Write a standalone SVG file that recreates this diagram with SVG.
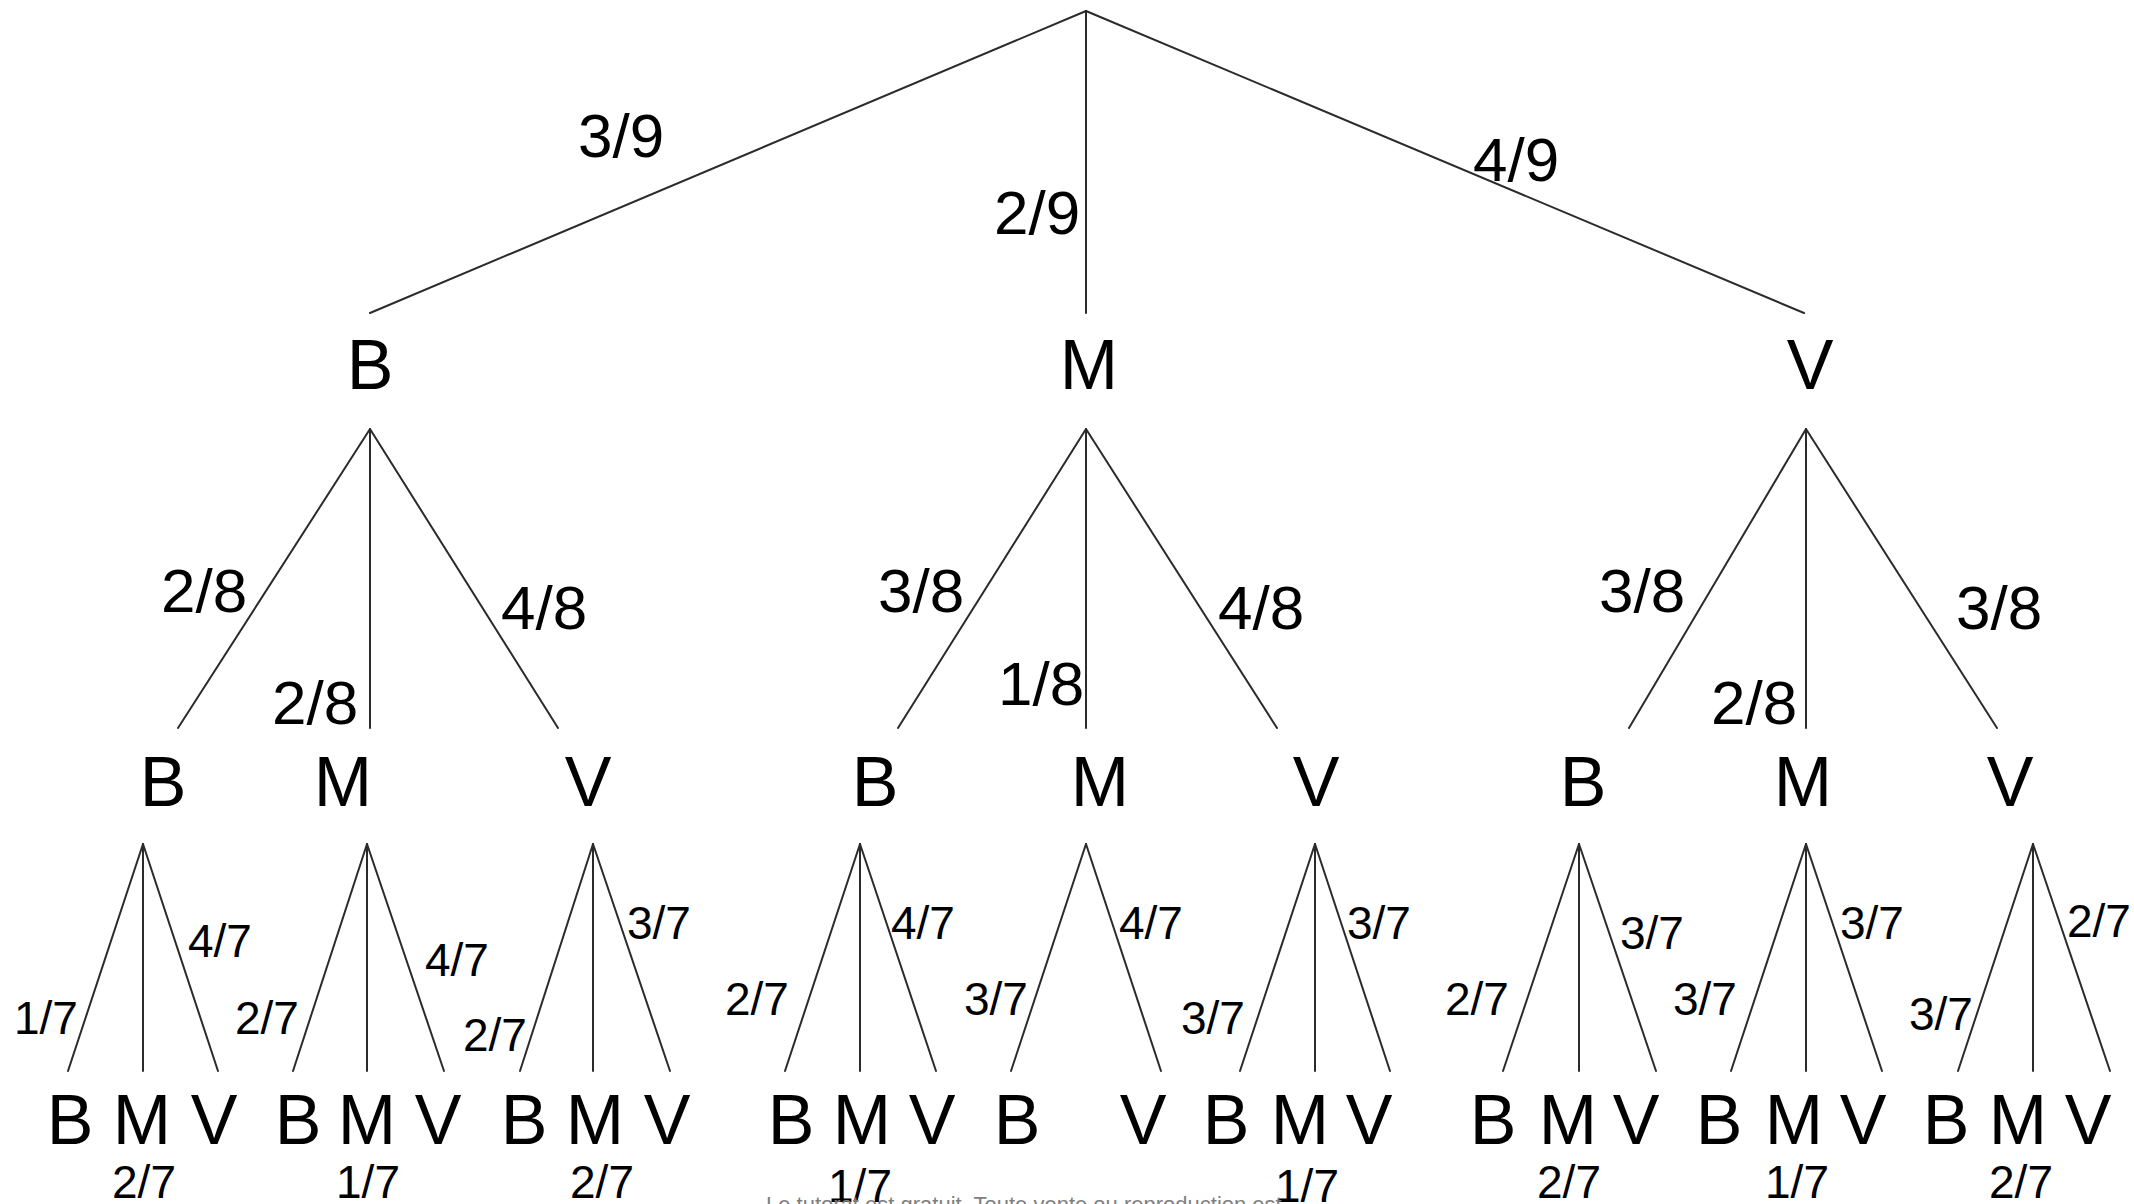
<svg xmlns="http://www.w3.org/2000/svg" width="2134" height="1204" viewBox="0 0 2134 1204">
  <style>
    .edge { stroke: #2b2b2b; stroke-width: 2; fill: none; stroke-linecap: round; }
    .node { font-family: "Liberation Sans", Arial, sans-serif; font-size: 70px; fill: #000; text-anchor: middle; }
    .p1 { font-family: "Liberation Sans", Arial, sans-serif; font-size: 62px; fill: #000; }
    .p3 { font-family: "Liberation Sans", Arial, sans-serif; font-size: 46px; fill: #000; }
    .pm { font-family: "Liberation Sans", Arial, sans-serif; font-size: 46px; fill: #000; text-anchor: middle; }
    .note { font-family: "Liberation Sans", Arial, sans-serif; font-size: 22px; fill: #808080; }
  </style>
  <rect width="2134" height="1204" fill="#fff"/>

  <!-- branches -->
  <g id="connectors" class="edge">
    <!-- first draw -->
    <line x1="1086" y1="11" x2="370" y2="313"/>
    <line x1="1086" y1="11" x2="1086" y2="313"/>
    <line x1="1086" y1="11" x2="1804" y2="313"/>
    <!-- second draw -->
    <line x1="370" y1="429" x2="178" y2="728"/>
    <line x1="370" y1="429" x2="370" y2="728"/>
    <line x1="370" y1="429" x2="558" y2="728"/>
    <line x1="1086" y1="429" x2="898" y2="728"/>
    <line x1="1086" y1="429" x2="1086" y2="728"/>
    <line x1="1086" y1="429" x2="1277" y2="728"/>
    <line x1="1806" y1="429" x2="1629" y2="728"/>
    <line x1="1806" y1="429" x2="1806" y2="728"/>
    <line x1="1806" y1="429" x2="1997" y2="728"/>
    <!-- third draw -->
    <line x1="143" y1="844" x2="68" y2="1071"/>
    <line x1="143" y1="844" x2="143" y2="1071"/>
    <line x1="143" y1="844" x2="218" y2="1071"/>
    <line x1="367" y1="844" x2="293" y2="1071"/>
    <line x1="367" y1="844" x2="367" y2="1071"/>
    <line x1="367" y1="844" x2="444" y2="1071"/>
    <line x1="593" y1="844" x2="520" y2="1071"/>
    <line x1="593" y1="844" x2="593" y2="1071"/>
    <line x1="593" y1="844" x2="670" y2="1071"/>
    <line x1="860" y1="844" x2="785" y2="1071"/>
    <line x1="860" y1="844" x2="860" y2="1071"/>
    <line x1="860" y1="844" x2="936" y2="1071"/>
    <line x1="1086" y1="844" x2="1011" y2="1071"/>
    <line x1="1086" y1="844" x2="1161" y2="1071"/>
    <line x1="1315" y1="844" x2="1240" y2="1071"/>
    <line x1="1315" y1="844" x2="1315" y2="1071"/>
    <line x1="1315" y1="844" x2="1390" y2="1071"/>
    <line x1="1579" y1="844" x2="1503" y2="1071"/>
    <line x1="1579" y1="844" x2="1579" y2="1071"/>
    <line x1="1579" y1="844" x2="1656" y2="1071"/>
    <line x1="1806" y1="844" x2="1731" y2="1071"/>
    <line x1="1806" y1="844" x2="1806" y2="1071"/>
    <line x1="1806" y1="844" x2="1882" y2="1071"/>
    <line x1="2033" y1="844" x2="1958" y2="1071"/>
    <line x1="2033" y1="844" x2="2033" y2="1071"/>
    <line x1="2033" y1="844" x2="2110" y2="1071"/>
  </g>

  <!-- branch probabilities -->
  <g id="edge-labels">
    <text class="p1" x="578" y="157">3/9</text>
    <text class="p1" x="994" y="234">2/9</text>
    <text class="p1" x="1473" y="181">4/9</text>

    <text class="p1" x="161" y="612">2/8</text>
    <text class="p1" x="272" y="724">2/8</text>
    <text class="p1" x="501" y="629">4/8</text>
    <text class="p1" x="878" y="612">3/8</text>
    <text class="p1" x="998" y="705">1/8</text>
    <text class="p1" x="1218" y="629">4/8</text>
    <text class="p1" x="1599" y="612">3/8</text>
    <text class="p1" x="1711" y="724">2/8</text>
    <text class="p1" x="1956" y="629">3/8</text>

    <text class="p3" x="14" y="1034">1/7</text>
    <text class="p3" x="188" y="957">4/7</text>
    <text class="p3" x="235" y="1034">2/7</text>
    <text class="p3" x="425" y="976">4/7</text>
    <text class="p3" x="463" y="1051">2/7</text>
    <text class="p3" x="627" y="939">3/7</text>
    <text class="p3" x="725" y="1015">2/7</text>
    <text class="p3" x="891" y="939">4/7</text>
    <text class="p3" x="964" y="1015">3/7</text>
    <text class="p3" x="1119" y="939">4/7</text>
    <text class="p3" x="1181" y="1034">3/7</text>
    <text class="p3" x="1347" y="939">3/7</text>
    <text class="p3" x="1445" y="1015">2/7</text>
    <text class="p3" x="1620" y="949">3/7</text>
    <text class="p3" x="1673" y="1015">3/7</text>
    <text class="p3" x="1840" y="939">3/7</text>
    <text class="p3" x="1909" y="1030">3/7</text>
    <text class="p3" x="2067" y="937">2/7</text>

    <text class="pm" x="144" y="1198">2/7</text>
    <text class="pm" x="368" y="1198">1/7</text>
    <text class="pm" x="602" y="1198">2/7</text>
    <text class="pm" x="860" y="1202">1/7</text>
    <text class="pm" x="1307" y="1202">1/7</text>
    <text class="pm" x="1569" y="1198">2/7</text>
    <text class="pm" x="1797" y="1198">1/7</text>
    <text class="pm" x="2021" y="1198">2/7</text>
  </g>

  <!-- first draw -->
  <g id="n-B" class="node"><text x="370" y="389">B</text></g>
  <g id="n-M" class="node"><text x="1089" y="389">M</text></g>
  <g id="n-V" class="node"><text x="1810" y="389">V</text></g>

  <!-- second draw -->
  <g id="n-BB" class="node"><text x="163" y="806">B</text></g>
  <g id="n-BM" class="node"><text x="343" y="806">M</text></g>
  <g id="n-BV" class="node"><text x="588" y="806">V</text></g>
  <g id="n-MB" class="node"><text x="875" y="806">B</text></g>
  <g id="n-MM" class="node"><text x="1100" y="806">M</text></g>
  <g id="n-MV" class="node"><text x="1316" y="806">V</text></g>
  <g id="n-VB" class="node"><text x="1583" y="806">B</text></g>
  <g id="n-VM" class="node"><text x="1803" y="806">M</text></g>
  <g id="n-VV" class="node"><text x="2010" y="806">V</text></g>

  <!-- third draw -->
  <g id="n-BBB" class="node"><text x="70" y="1144">B</text></g>
  <g id="n-BBM" class="node"><text x="142" y="1144">M</text></g>
  <g id="n-BBV" class="node"><text x="214" y="1144">V</text></g>
  <g id="n-BMB" class="node"><text x="298" y="1144">B</text></g>
  <g id="n-BMM" class="node"><text x="367" y="1144">M</text></g>
  <g id="n-BMV" class="node"><text x="438" y="1144">V</text></g>
  <g id="n-BVB" class="node"><text x="524" y="1144">B</text></g>
  <g id="n-BVM" class="node"><text x="595" y="1144">M</text></g>
  <g id="n-BVV" class="node"><text x="667" y="1144">V</text></g>
  <g id="n-MBB" class="node"><text x="791" y="1144">B</text></g>
  <g id="n-MBM" class="node"><text x="862" y="1144">M</text></g>
  <g id="n-MBV" class="node"><text x="932" y="1144">V</text></g>
  <g id="n-MMB" class="node"><text x="1017" y="1144">B</text></g>
  <g id="n-MMV" class="node"><text x="1143" y="1144">V</text></g>
  <g id="n-MVB" class="node"><text x="1226" y="1144">B</text></g>
  <g id="n-MVM" class="node"><text x="1300" y="1144">M</text></g>
  <g id="n-MVV" class="node"><text x="1369" y="1144">V</text></g>
  <g id="n-VBB" class="node"><text x="1493" y="1144">B</text></g>
  <g id="n-VBM" class="node"><text x="1568" y="1144">M</text></g>
  <g id="n-VBV" class="node"><text x="1636" y="1144">V</text></g>
  <g id="n-VMB" class="node"><text x="1719" y="1144">B</text></g>
  <g id="n-VMM" class="node"><text x="1794" y="1144">M</text></g>
  <g id="n-VMV" class="node"><text x="1863" y="1144">V</text></g>
  <g id="n-VVB" class="node"><text x="1946" y="1144">B</text></g>
  <g id="n-VVM" class="node"><text x="2018" y="1144">M</text></g>
  <g id="n-VVV" class="node"><text x="2088" y="1144">V</text></g>

  <text class="note" x="766" y="1212">Le tutorat est gratuit. Toute vente ou reproduction est</text>
</svg>
